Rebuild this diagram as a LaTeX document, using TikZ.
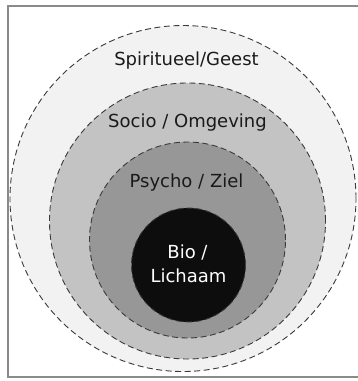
\documentclass[tikz,border=0pt]{standalone}
\usepackage{fontspec}
\setmainfont{DejaVu Sans}
\definecolor{ringline}{HTML}{3A3A3A}
\definecolor{framegray}{HTML}{8A8A8A}
\definecolor{spiritfill}{HTML}{F2F2F2}
\definecolor{sociofill}{HTML}{C3C3C3}
\definecolor{psychofill}{HTML}{979797}
\definecolor{biofill}{HTML}{0D0D0D}
\definecolor{labeltext}{HTML}{1A1A1A}
\tikzset{
  ring/.style={circle, draw=ringline, line width=0.9pt, dash pattern=on 6pt off 3.5pt, inner sep=0pt},
  lbl/.style={anchor=base, inner sep=0pt, text=labeltext, font=\fontsize{18}{25}\selectfont},
}
\begin{document}
\begin{tikzpicture}[x=1pt,y=-1pt]
\useasboundingbox (0,0) rectangle (358,381);
\fill[white] (0,0) rectangle (358,381);
\draw[framegray, line width=2pt] (8,6) rectangle (362,377);
\node[ring, fill=spiritfill, minimum size=346pt] (spirit) at (183,198.5) {};
\node[ring, fill=sociofill, minimum size=276pt] (socio) at (187.5,221) {};
\node[ring, fill=psychofill, minimum size=196pt] (psycho) at (187.5,240) {};
\node[ring, fill=biofill, minimum size=114pt] (bio) at (188.5,265) {};
\node[lbl] (tspirit) at (186.5,65) {Spiritueel/Geest};
\node[lbl] (tsocio) at (187.5,127) {Socio / Omgeving};
\node[lbl] (tpsycho) at (186.5,187) {Psycho / Ziel};
\node[lbl, text=white] (tbio1) at (187.5,258) {Bio /};
\node[lbl, text=white] (tbio2) at (188.5,282) {Lichaam};
\end{tikzpicture}
\end{document}
